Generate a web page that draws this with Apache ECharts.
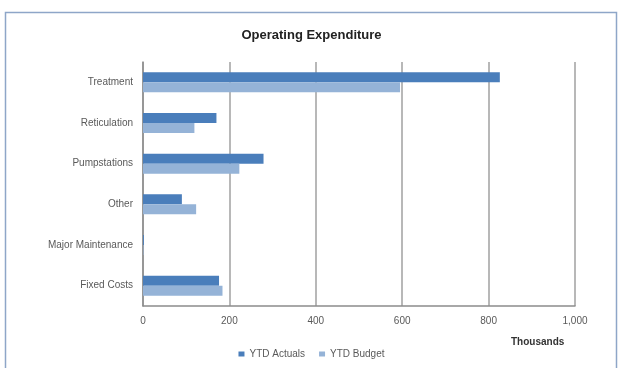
<!DOCTYPE html>
<html>
<head>
<meta charset="utf-8">
<script src="https://cdn.jsdelivr.net/npm/echarts@6/dist/echarts.min.js"></script>
<style>
  html, body { margin: 0; padding: 0; background: #ffffff; }
  #chart { width: 623px; height: 368px; }
</style>
</head>
<body>
<div id="chart"></div>
<script>
// Operating expenditure by area, in thousands
const categories = ['Treatment', 'Reticulation', 'Pumpstations', 'Other', 'Major Maintenance', 'Fixed Costs'];
const ytdActuals = [826, 170, 279, 90, 2, 176];
const ytdBudget = [595, 119, 223, 123, 1, 184];
const xTicks = [0, 200, 400, 600, 800, 1000];

const chart = echarts.init(document.getElementById('chart'), null, { renderer: 'canvas' });
const font = 'Liberation Sans, Arial, sans-serif';

chart.setOption({
  animation: false,
  backgroundColor: '#ffffff',
  graphic: [{
    type: 'rect',
    shape: { x: 5.5, y: 12.5, width: 611, height: 370 },
    style: { fill: 'none', stroke: '#8ea6c8', lineWidth: 1.5 },
    silent: true
  }, {
    type: 'text',
    left: 511, top: 337,
    style: { text: 'Thousands', font: 'bold 10px ' + font, fill: '#333333' }
  }],
  title: {
    text: 'Operating Expenditure',
    left: 'center', top: 24,
    textStyle: { fontFamily: font, fontSize: 13, fontWeight: 'bold', color: '#222222' }
  },
  legend: {
    bottom: 4, left: 'center',
    itemWidth: 6, itemHeight: 5, itemGap: 14,
    icon: 'rect',
    textStyle: { fontFamily: font, fontSize: 10, color: '#595959' },
    data: ['YTD Actuals', 'YTD Budget']
  },
  grid: { left: 143, right: 48, top: 62, bottom: 62, containLabel: false },
  xAxis: {
    type: 'value',
    min: xTicks[0], max: xTicks[xTicks.length - 1], interval: 200,
    axisLine: { show: true, lineStyle: { color: '#8c8c8c', width: 1.5 } },
    axisTick: { show: false },
    axisLabel: {
      fontFamily: font, fontSize: 10, color: '#595959', margin: 10,
      formatter: v => v.toLocaleString('en-US')
    },
    splitLine: { show: true, lineStyle: { color: '#a0a0a0', width: 1.5 } }
  },
  yAxis: {
    type: 'category',
    data: categories,
    inverse: true,
    axisLine: { show: true, lineStyle: { color: '#8c8c8c', width: 1.5 } },
    axisTick: { show: false },
    axisLabel: { fontFamily: font, fontSize: 10, color: '#595959', margin: 10 }
  },
  series: [{
    name: 'YTD Actuals',
    type: 'bar',
    data: ytdActuals,
    barWidth: 10,
    barGap: '0%',
    itemStyle: { color: '#4a7ebb' }
  }, {
    name: 'YTD Budget',
    type: 'bar',
    data: ytdBudget,
    barWidth: 10,
    barGap: '0%',
    itemStyle: { color: '#95b3d7' }
  }]
});
</script>
</body>
</html>
